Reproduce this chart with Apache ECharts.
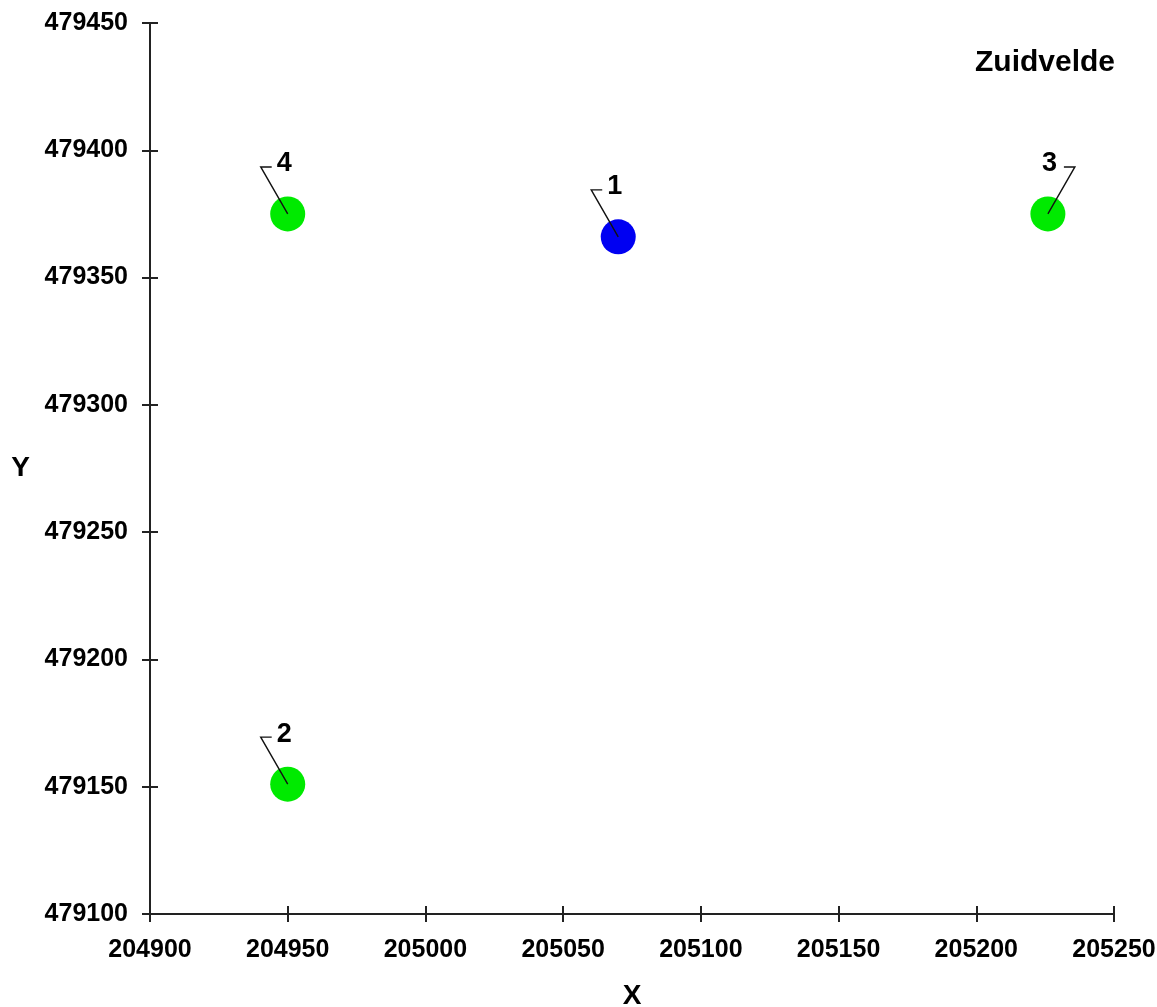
<!DOCTYPE html>
<html>
<head>
<meta charset="utf-8">
<script src="https://cdn.jsdelivr.net/npm/echarts@6/dist/echarts.min.js"></script>
<style>
  html, body { margin: 0; padding: 0; background: #fff; }
  #main { width: 1157px; height: 1007px; }
</style>
</head>
<body>
<div id="main"></div>
<script>
// meetpunten Zuidvelde
const pointNames = ['1', '2', '3', '4'];
const pointX = [205070, 204950, 205226, 204950];
const pointY = [479366, 479151, 479375, 479375];
const pointType = ['blue', 'green', 'green', 'green'];

const xTicks = [204900, 204950, 205000, 205050, 205100, 205150, 205200, 205250];
const yTicks = [479100, 479150, 479200, 479250, 479300, 479350, 479400, 479450];

const colors = { blue: '#0000f2', green: '#00ea00' };
// label aan de rechterkant voor punt 3
const labelRight = { '3': true };

const FONT = 'Liberation Sans, Arial, sans-serif';

const chart = echarts.init(document.getElementById('main'));

const data = pointNames.map((n, i) => [pointX[i], pointY[i], n, pointType[i]]);

function axisBase(vals, showLabel, inside, pos) {
    return {
        type: 'value',
        position: pos,
        min: vals[0],
        max: vals[vals.length - 1],
        interval: vals[1] - vals[0],
        splitLine: { show: false },
        axisLine: { show: showLabel, onZero: false, lineStyle: { color: '#222', width: 2 } },
        axisTick: { show: true, inside: inside, length: 8, lineStyle: { color: '#222', width: 2 } },
        axisLabel: {
            show: showLabel,
            color: '#000',
            fontSize: 25,
            fontWeight: 'bold',
            fontFamily: FONT,
            formatter: v => String(v)
        }
    };
}

const xMain = axisBase(xTicks, true, false, 'bottom');
xMain.axisLabel.margin = 24;
xMain.name = 'X';
xMain.nameLocation = 'middle';
xMain.nameGap = 68;
xMain.nameTextStyle = { color: '#000', fontSize: 28, fontWeight: 'bold', fontFamily: FONT };

const yMain = axisBase(yTicks, true, false, 'left');
yMain.axisLabel.margin = 22;
yMain.name = 'Y';
yMain.nameLocation = 'middle';
yMain.nameRotate = 0;
yMain.nameGap = 120;
yMain.nameTextStyle = { color: '#000', fontSize: 28, fontWeight: 'bold', fontFamily: FONT };

let option = {
    backgroundColor: '#fff',
    animation: false,
    title: {
        text: 'Zuidvelde',
        right: 37,
        top: 43,
        textStyle: { color: '#000', fontSize: 30, fontWeight: 'bold', fontFamily: FONT }
    },
    grid: { left: 150, right: 43, top: 23, bottom: 93, outerBoundsMode: 'none', containLabel: false },
    xAxis: [xMain, axisBase(xTicks, false, true, 'bottom')],
    yAxis: [yMain, axisBase(yTicks, false, true, 'left')],
    series: [{
        type: 'custom',
        xAxisIndex: 0,
        yAxisIndex: 0,
        data: data,
        clip: false,
        renderItem: function (params, api) {
            const p = api.coord([api.value(0), api.value(1)]);
            const name = pointNames[params.dataIndex];
            const col = colors[pointType[params.dataIndex]];
            const right = labelRight[name];
            const s = right ? 1 : -1;
            const cx = p[0], cy = p[1];
            const kx = cx + s * 27, ky = cy - 47;
            return {
                type: 'group',
                children: [
                    {
                        type: 'circle',
                        shape: { cx: cx, cy: cy, r: 17.5 },
                        style: { fill: col }
                    },
                    {
                        type: 'polyline',
                        shape: { points: [[cx, cy], [kx, ky], [kx - s * 11, ky]] },
                        style: { stroke: '#111', lineWidth: 1.4, fill: null }
                    },
                    {
                        type: 'text',
                        style: {
                            text: name,
                            x: right ? kx - 18 : kx + 16,
                            y: ky - 3,
                            align: right ? 'right' : 'left',
                            verticalAlign: 'middle',
                            fill: '#000',
                            font: 'bold 27px ' + FONT
                        }
                    }
                ]
            };
        }
    }]
};

chart.setOption(option);
</script>
</body>
</html>
